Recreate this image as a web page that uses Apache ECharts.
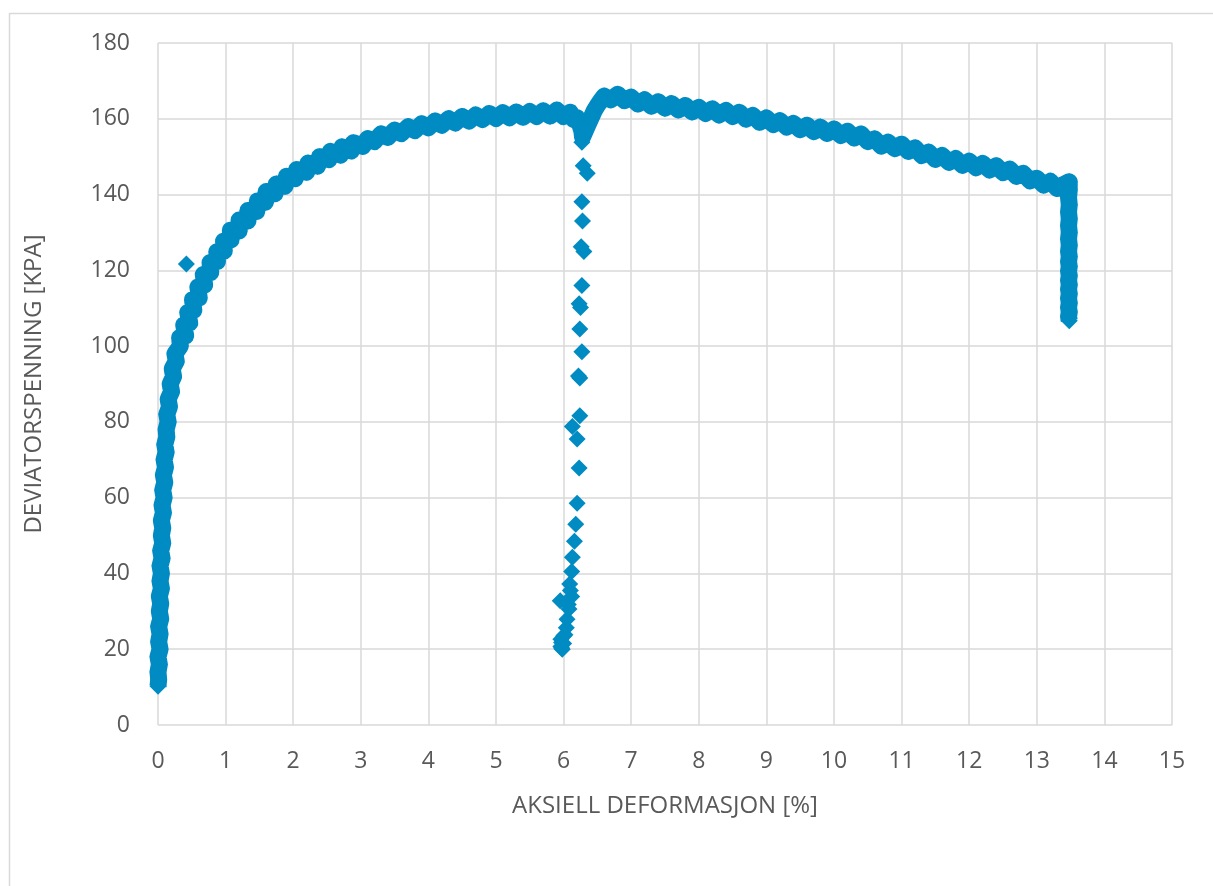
<!DOCTYPE html>
<html>
<head>
<meta charset="utf-8">
<script src="https://cdn.jsdelivr.net/npm/echarts@6/dist/echarts.min.js"></script>
<style>
html,body{margin:0;padding:0;background:#fff;}
#chart{width:1213px;height:886px;}
</style>
</head>
<body>
<div id="chart"></div>
<script>
// ---- Data ----
var xTicks = [0,1,2,3,4,5,6,7,8,9,10,11,12,13,14,15];
var yTicks = [0,20,40,60,80,100,120,140,160,180];
var xTitle = 'AKSIELL DEFORMASJON [%]';
var yTitle = 'DEVIATORSPENNING [KPA]';

// initial steep loading branch
var initialRise = [
 [0.00,10.2],[0.01,12],[0.00,14],[0.02,16],[0.00,18],[0.03,20],[0.01,22],[0.03,24],[0.01,26],[0.04,28],
 [0.02,30],[0.04,32],[0.02,34],[0.05,36],[0.03,38],[0.05,40],[0.03,42],[0.06,44],[0.04,46],[0.07,48],
 [0.05,50],[0.07,52],[0.05,54],[0.08,56],[0.06,58],[0.09,60],[0.07,62],[0.10,64],[0.08,66],[0.11,68],
 [0.09,70],[0.12,72],[0.10,74],[0.13,76],[0.12,78],[0.15,80],[0.13,82],[0.17,84],[0.15,86],[0.20,88],
 [0.18,90],[0.23,92],[0.21,94],[0.27,96],[0.25,98],[0.33,100]
];

// curved part of loading branch up to the plateau
var loadingCurve = [
 [0.32,102.3],[0.41,102.7],[0.38,105.6],[0.47,106.1],[0.44,108.9],[0.53,109.4],[0.51,112.3],[0.61,112.7],
 [0.59,115.6],[0.69,116.1],[0.67,118.9],[0.78,119.4],[0.77,122.1],[0.88,122.3],[0.87,124.9],[0.98,125.1],
 [0.97,127.7],[1.08,128.0],[1.07,130.6],[1.20,130.4],[1.20,133.3],[1.33,133.0],[1.33,135.8],[1.46,135.5],
 [1.47,138.3],[1.59,138.0],[1.60,140.8],[1.73,140.2],[1.75,142.8],[1.88,142.2],[1.90,144.8],[2.03,144.2],
 [2.05,146.6],[2.20,145.9],[2.22,148.3],[2.36,147.5],[2.39,150.0],[2.53,149.2],[2.55,151.4],[2.70,150.4],
 [2.72,152.6],[2.86,151.5],[2.89,153.7],[3.03,152.7]
];

// plateau before the unloading
var plateau = [
 [3.1,154.8],[3.2,154.0],[3.3,156.0],[3.4,155.1],[3.5,157.0],[3.6,156.1],[3.7,157.9],[3.8,156.9],
 [3.9,158.7],[4.0,157.6],[4.1,159.4],[4.2,158.3],[4.3,160.0],[4.4,158.9],[4.5,160.6],[4.6,159.4],
 [4.7,161.0],[4.8,159.8],[4.9,161.4],[5.0,160.1],[5.1,161.6],[5.2,160.3],[5.3,161.8],[5.4,160.4],
 [5.5,161.9],[5.6,160.6],[5.7,162.1],[5.8,160.7],[5.9,162.3],[6.0,160.6],[6.1,161.7],[6.15,159.8],
 [6.2,160.3],[6.24,158.5],[6.27,156.8],[6.28,155.2]
];

// unloading / reloading loop near 6 %
var unloadLoop = [
 [6.27,153.8],[6.29,147.6],[6.35,145.6],[6.27,138.1],[6.28,133.0],[6.26,126.2],[6.30,125.0],[6.27,116.0],
 [6.23,111.2],[6.25,110.2],[6.24,104.5],[6.27,98.5],[6.22,92.1],[6.24,91.6],[6.24,81.6],[6.13,78.8],
 [6.20,75.5],[6.23,67.8],[6.20,58.5],[6.18,53.0],[6.16,48.5],[6.13,44.3],[6.12,40.5],[6.10,35.5],
 [6.09,37.2],[6.12,33.9],[5.95,32.8],[6.07,31.8],[6.08,30.6],[6.05,27.9],[6.04,25.7],[6.00,23.5],
 [5.97,21.8],[5.96,20.7],[5.98,20.0],[5.96,22.6],[6.00,21.5],[5.97,20.3],[6.02,23.8]
];

// reloading back to peak
var reloadRise = [
 [6.30,156.0],[6.35,158.0],[6.40,160.0],[6.45,162.0],[6.50,163.5],[6.55,164.8]
];

// softening branch after the peak
var softening = [
 [6.6,166.0],[6.7,165.0],[6.8,166.5],[6.9,164.8],[7.0,165.7],[7.1,163.9],[7.2,165.0],[7.3,163.3],
 [7.4,164.5],[7.5,162.8],[7.6,164.0],[7.7,162.3],[7.8,163.5],[7.9,161.8],[8.0,163.0],[8.1,161.4],
 [8.2,162.6],[8.3,161.0],[8.4,162.2],[8.5,160.6],[8.6,161.7],[8.7,159.9],[8.8,160.9],[8.9,159.1],
 [9.0,160.2],[9.1,158.5],[9.2,159.5],[9.3,157.8],[9.4,158.8],[9.5,157.1],[9.6,158.3],[9.7,156.6],
 [9.8,157.8],[9.9,156.1],[10.0,157.3],[10.1,155.6],[10.2,156.7],[10.3,154.9],[10.4,156.0],[10.5,154.0],
 [10.6,154.7],[10.7,152.8],[10.8,153.8],[10.9,152.1],[11.0,153.3],[11.1,151.4],[11.2,152.3],[11.3,150.3],
 [11.4,151.2],[11.5,149.3],[11.6,150.3],[11.7,148.5],[11.8,149.5],[11.9,147.7],[12.0,148.8],[12.1,147.1],
 [12.2,148.2],[12.3,146.5],[12.4,147.6],[12.5,145.8],[12.6,146.7],[12.7,144.8],[12.8,145.6],[12.9,143.6],
 [13.0,144.3],[13.1,142.5],[13.2,143.5],[13.3,141.6],[13.4,142.7],[13.48,143.4]
];

// final drop at end of test
var endDrop = [
 [13.48,141.2],[13.47,139.2],[13.48,137.3],[13.47,135.4],[13.48,133.6],[13.47,131.8],[13.48,130.0],
 [13.47,128.3],[13.48,126.6],[13.47,125.0],[13.48,123.6],[13.47,122.3],[13.48,121.0],[13.47,119.8],
 [13.48,118.6],[13.47,117.4],[13.48,116.2],[13.47,115.0],[13.48,113.8],[13.47,112.6],[13.48,111.4],
 [13.47,110.2],[13.48,109.0],[13.47,107.8],[13.48,106.7]
];

// isolated outlier
var outlier = [[0.42,121.7]];

// ---- Chart ----
var BLUE = '#008bc3';
var allPoints = [].concat(initialRise, loadingCurve, plateau, unloadLoop, reloadRise, softening, endDrop, outlier);
// densely sampled record: the continuous branches are so dense that the markers merge into a band
var continuousBand = [].concat(initialRise, loadingCurve, plateau, reloadRise, softening, endDrop);
var FONT = '"Open Sans", "Noto Sans", sans-serif';
var chart = echarts.init(document.getElementById('chart'), null, {renderer:'canvas'});
chart.setOption({
  animation: false,
  backgroundColor: '#ffffff',
  graphic: [{
    type: 'rect', left: 7, top: 11, silent: true,
    shape: {x: 0, y: 0, width: 1400, height: 1000},
    style: {fill: 'none', stroke: '#d9d9d9', lineWidth: 1.5}
  }],
  grid: {left: 158, top: 43, right: 41, bottom: 161, containLabel: false},
  xAxis: {
    type: 'value', min: xTicks[0], max: xTicks[xTicks.length-1], interval: 1,
    name: xTitle, nameLocation: 'middle', nameGap: 69,
    nameTextStyle: {color: '#595959', fontSize: 24, fontFamily: FONT},
    axisLine: {show: false}, axisTick: {show: false},
    axisLabel: {color: '#595959', fontSize: 23, fontFamily: FONT, margin: 25},
    splitLine: {show: true, lineStyle: {color: '#d9d9d9', width: 1.5}}
  },
  yAxis: {
    type: 'value', min: yTicks[0], max: yTicks[yTicks.length-1], interval: 20,
    name: yTitle, nameLocation: 'middle', nameGap: 112, nameRotate: 90,
    nameTextStyle: {color: '#595959', fontSize: 24, fontFamily: FONT},
    axisLine: {show: false}, axisTick: {show: false},
    axisLabel: {color: '#595959', fontSize: 23, fontFamily: FONT, margin: 28},
    splitLine: {show: true, lineStyle: {color: '#d9d9d9', width: 1.5}}
  },
  series: [{
    type: 'line',
    data: continuousBand,
    showSymbol: false,
    symbol: 'none',
    lineStyle: {color: BLUE, width: 17, cap: 'butt', join: 'round'},
    z: 1,
    silent: true,
    emphasis: {disabled: true}
  }, {
    type: 'scatter',
    data: allPoints,
    symbol: 'diamond',
    symbolSize: 17,
    itemStyle: {color: BLUE, opacity: 1},
    z: 2,
    emphasis: {disabled: true}
  }]
});
</script>
</body>
</html>
